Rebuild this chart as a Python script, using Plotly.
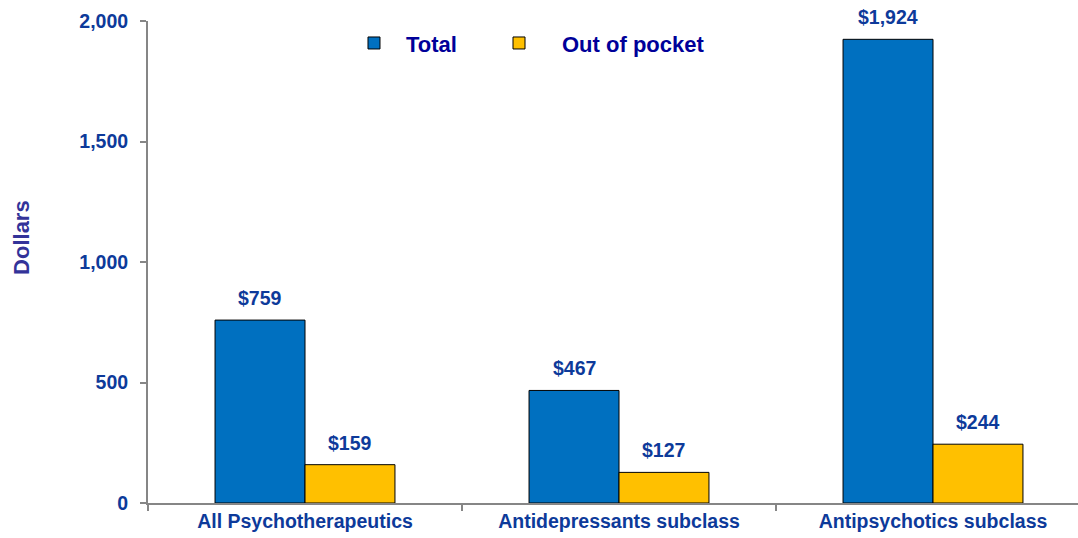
import plotly.graph_objects as go

# Average annual spending per user, by drug class
categories = ["All Psychotherapeutics", "Antidepressants subclass", "Antipsychotics subclass"]
total = [759, 467, 1924]
out_of_pocket = [159, 127, 244]
series_names = ["Total", "Out of pocket"]
y_ticks = [0, 500, 1000, 1500, 2000]

BLUE = "#0070C0"
GOLD = "#FFC000"
LABEL = "#0D3A9A"
FONT = "Liberation Sans, Arial"
BAR_GAP = 0.427

fig = go.Figure()
for name, vals, col, lg in zip(series_names, [total, out_of_pocket], [BLUE, GOLD],
                               ["legend", "legend2"]):
    fig.add_trace(go.Bar(
        x=categories, y=vals, name=name, legend=lg, showlegend=True,
        marker=dict(color=col, line=dict(color="#000000", width=1)),
    ))

# Value labels above each bar
half = (1 - BAR_GAP) / 4
for series_idx, vals in enumerate([total, out_of_pocket]):
    offset = -half if series_idx == 0 else half
    for i, v in enumerate(vals):
        fig.add_annotation(
            x=i + offset, y=v, xref="x", yref="y",
            text=f"<b>${v:,}</b>", showarrow=False,
            yanchor="bottom", yshift=9,
            font=dict(family=FONT, size=19.5, color=LABEL),
        )

fig.add_annotation(
    x=-0.1355, y=0.552, xref="paper", yref="paper",
    xanchor="center", yanchor="middle",
    text="<b>Dollars</b>", textangle=-90, showarrow=False,
    font=dict(family=FONT, size=22, color="#333399"),
)

legend_font = dict(size=22, color="#000099", family=FONT, weight="bold")

fig.update_layout(
    width=1078, height=538,
    showlegend=True,
    margin=dict(l=148, r=0, t=21, b=35),
    plot_bgcolor="white", paper_bgcolor="white",
    barmode="group", bargap=BAR_GAP, bargroupgap=0,
    font=dict(family=FONT, color=LABEL),
    legend=dict(
        orientation="h", x=0.2086, y=0.954, xanchor="left", yanchor="middle",
        font=legend_font, itemwidth=54, bgcolor="rgba(0,0,0,0)", visible=True,
    ),
    legend2=dict(
        orientation="h", x=0.3527, y=0.954, xanchor="left", yanchor="middle",
        font=legend_font, itemwidth=76, bgcolor="rgba(0,0,0,0)", visible=True,
    ),
    xaxis=dict(
        type="category", range=[-0.5, -0.5 + 930 / 314],
        showline=True, linecolor="#868686", linewidth=2,
        ticks="outside", tickson="boundaries", ticklen=6, tickcolor="#868686", tickwidth=2,
        tickfont=dict(size=19.5, color=LABEL, weight="bold"), showgrid=False,
    ),
    yaxis=dict(
        range=[0, 2000], tickvals=y_ticks, tickformat=",d",
        showline=True, linecolor="#868686", linewidth=2,
        ticks="outside", ticklen=6, tickcolor="#868686", tickwidth=2,
        tickfont=dict(size=19.5, color=LABEL, weight="bold"), showgrid=False, zeroline=False,
        ticklabelstandoff=8,
    ),
)

fig.write_html("out.html")
